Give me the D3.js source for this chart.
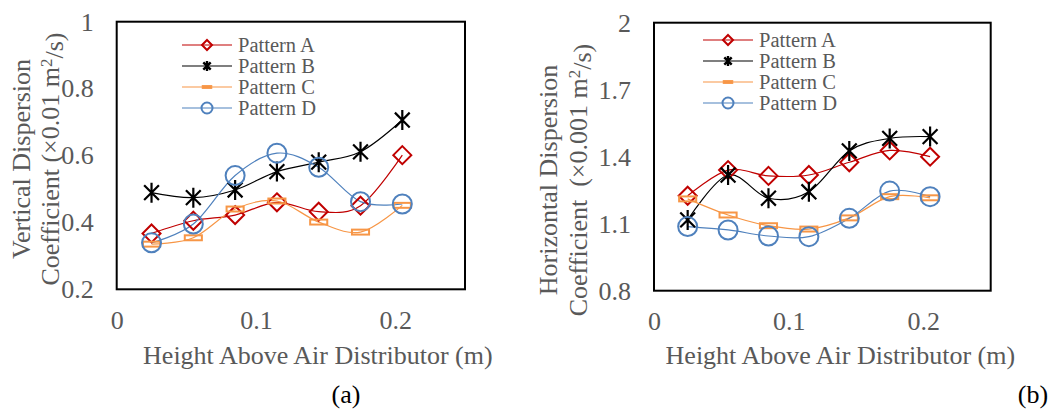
<!DOCTYPE html>
<html><head><meta charset="utf-8">
<script src="https://cdn.jsdelivr.net/npm/d3@7"></script>
<style>body{margin:0;background:#fff}svg{display:block}</style>
</head><body><svg id="c" width="1053" height="410"></svg>
<script>
const heights = [0.025, 0.055, 0.085, 0.115, 0.145, 0.175, 0.205];
const seriesNames = ["Pattern A", "Pattern B", "Pattern C", "Pattern D"];
// Panel (a) vertical dispersion coefficient (x0.01 m2/s)
const vA = [0.367, 0.405, 0.422, 0.460, 0.432, 0.450, 0.601];
const vB = [0.489, 0.474, 0.497, 0.552, 0.580, 0.611, 0.706];
const vC = [0.335, 0.354, 0.440, 0.464, 0.401, 0.371, 0.451];
const vD = [0.339, 0.395, 0.540, 0.607, 0.565, 0.462, 0.455];
// Panel (b) horizontal dispersion coefficient (x0.001 m2/s)
const hA = [1.225, 1.340, 1.314, 1.318, 1.375, 1.428, 1.400];
const hB = [1.117, 1.318, 1.214, 1.243, 1.426, 1.482, 1.490];
const hC = [1.211, 1.139, 1.091, 1.076, 1.126, 1.221, 1.216];
const hD = [1.087, 1.072, 1.045, 1.042, 1.124, 1.246, 1.221];
const xTicks = [0, 0.1, 0.2];
const yTicksA = [0.2, 0.4, 0.6, 0.8, 1];
const yTicksB = [0.8, 1.1, 1.4, 1.7, 2];

const colors = ["#C00000", "#000000", "#F79646", "#4F81BD"];
const markers = ["diamond", "star", "rect", "circle"];
const TXT = "#595959";
const FONT = "'Liberation Serif','Times New Roman',serif";
const svg = d3.select("#c");
svg.append("rect").attr("width",1053).attr("height",410).attr("fill","#fff");

function drawMarker(g, type, x, y, s, color, legend) {
  if (type === "diamond") {
    g.append("path").attr("d", `M${x},${y-s}L${x+s},${y}L${x},${y+s}L${x-s},${y}Z`)
      .attr("fill","none").attr("stroke",color).attr("stroke-width",2);
  } else if (type === "star") {
    const r = s, d = s*0.74;
    g.append("path").attr("d", `M${x},${y-r}L${x},${y+r}M${x-d},${y-d}L${x+d},${y+d}M${x-d},${y+d}L${x+d},${y-d}`)
      .attr("fill","none").attr("stroke",color).attr("stroke-width",legend?2.4:2.2);
  } else if (type === "rect") {
    const w = s*1.9, h = s*0.55;
    g.append("rect").attr("x",x-w/2).attr("y",y-h/2).attr("width",w).attr("height",h)
      .attr("fill",legend?color:"none").attr("stroke",color).attr("stroke-width",legend?1:2);
  } else {
    g.append("circle").attr("cx",x).attr("cy",y).attr("r",s)
      .attr("fill","none").attr("stroke",color).attr("stroke-width",2);
  }
}

function panel(cfg) {
  const g = svg.append("g");
  const x = d3.scaleLinear().domain([0, 0.25]).range([cfg.x0, cfg.x1]);
  const y = d3.scaleLinear().domain(cfg.yDomain).range([cfg.y1, cfg.y0]);

  const ya = g.append("g").attr("transform",`translate(${cfg.x0 - 23},0)`)
    .call(d3.axisLeft(y).tickValues(cfg.yTicks).tickSize(0).tickPadding(0).tickFormat(d3.format("")));
  ya.select(".domain").remove();
  ya.selectAll("text").attr("fill",TXT).style("font-family",FONT).style("font-size","26px");

  const xa = g.append("g").attr("transform",`translate(0,${cfg.y1 + 21})`)
    .call(d3.axisBottom(x).tickValues(xTicks).tickSize(0).tickPadding(0).tickFormat(d3.format("")));
  xa.select(".domain").remove();
  xa.selectAll("text").attr("fill",TXT).style("font-family",FONT).style("font-size","26px");

  g.append("rect").attr("x",cfg.x0).attr("y",cfg.y0).attr("width",cfg.x1-cfg.x0).attr("height",cfg.y1-cfg.y0)
    .attr("fill","none").attr("stroke","#000").attr("stroke-width",2);

  const line = d3.line().x((d,i)=>x(heights[i])).y(d=>y(d)).curve(d3.curveCardinal.tension(0));
  cfg.series.forEach((vals, k) => {
    g.append("path").attr("d", line(vals)).attr("fill","none").attr("stroke",colors[k]).attr("stroke-width",1.2);
  });
  cfg.series.forEach((vals, k) => {
    vals.forEach((v,i) => drawMarker(g, markers[k], x(heights[i]), y(v), markers[k]==="circle"?9.5:(markers[k]==="star"?10:9), colors[k], false));
  });

  // legend
  seriesNames.forEach((n,k) => {
    const ly = cfg.legY + k*21;
    g.append("line").attr("x1",cfg.legX).attr("x2",cfg.legX+50).attr("y1",ly).attr("y2",ly)
      .attr("stroke",colors[k]).attr("stroke-width",1.2);
    drawMarker(g, markers[k], cfg.legX+25, ly, markers[k]==="circle"?5.5:5, colors[k], true);
    g.append("text").attr("x",cfg.legX+56).attr("y",ly).attr("dy","0.35em")
      .attr("fill",TXT).style("font-family",FONT).style("font-size","20.5px").text(n);
  });

  // axis titles
  g.append("text").attr("x",(cfg.x0+cfg.x1)/2 + cfg.xtOff).attr("y",364).attr("text-anchor","middle")
    .attr("fill",TXT).style("font-family",FONT).style("font-size","26px").text("Height Above Air Distributor (m)");
  g.append("text").attr("transform",`translate(${cfg.yt1},${cfg.ytc}) rotate(-90)`).attr("text-anchor","middle")
    .attr("fill",TXT).style("font-family",FONT).style("font-size","26px").text(cfg.title1);
  const t2 = g.append("text").attr("transform",`translate(${cfg.yt2},${cfg.ytc}) rotate(-90)`).attr("text-anchor","middle")
    .attr("fill",TXT).style("font-family",FONT).style("font-size","26px").style("white-space","pre");
  t2.append("tspan").text(cfg.title2a);
  t2.append("tspan").attr("dy","-0.4em").style("font-size","17px").text("2");
  t2.append("tspan").attr("dy","0.4em").text("/s)");
  g.append("text").attr("x",cfg.labX).attr("y",403).attr("text-anchor","middle")
    .attr("fill","#000").style("font-family",FONT).style("font-size","26px").text(cfg.label);
}

panel({x0:116.7, x1:465, y0:21.7, y1:289.3, yDomain:[0.2,1], yTicks:yTicksA,
  series:[vA,vB,vC,vD], legX:182, legY:45, xtOff:27, yt1:30, yt2:59, ytc:159,
  title1:"Vertical Dispersion", title2a:"Coefficient (×0.01 m", label:"(a)", labX:346});
panel({x0:654, x1:990.7, y0:22.7, y1:290.7, yDomain:[0.8,2], yTicks:yTicksB,
  series:[hA,hB,hC,hD], legX:703, legY:40, xtOff:18, yt1:557, yt2:587, ytc:180,
  title1:"Horizontal Dispersion", title2a:"Coefficient  (×0.001 m", label:"(b)", labX:1033});
</script></body></html>
